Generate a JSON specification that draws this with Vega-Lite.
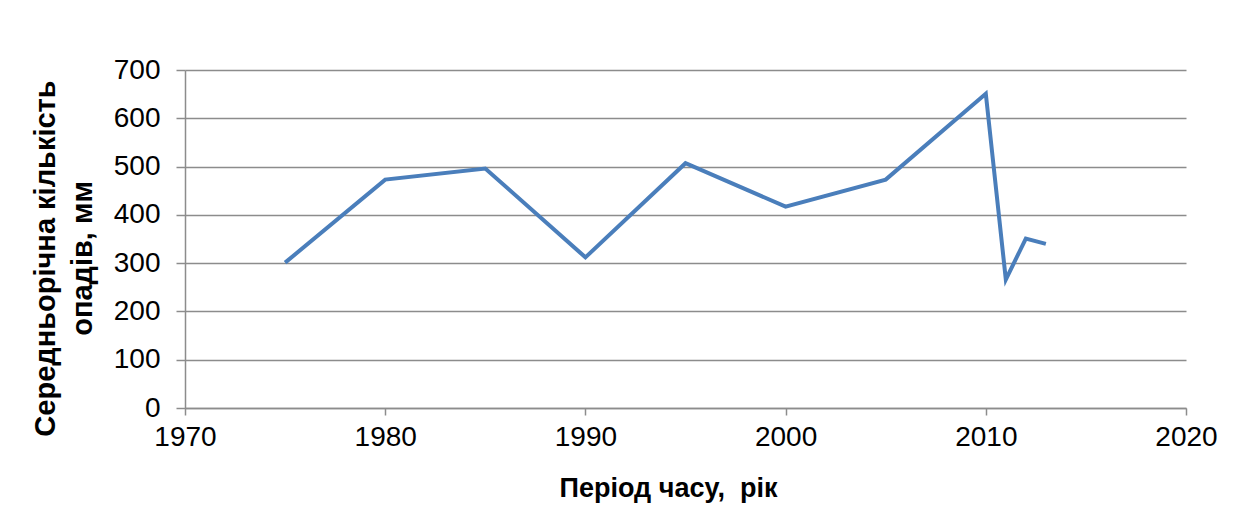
{
  "$schema": "https://vega.github.io/schema/vega-lite/v6.json",
  "width": 1001,
  "height": 338,
  "autosize": {"type": "none"},
  "padding": {"left": 185, "top": 70, "right": 65, "bottom": 107},
  "background": "white",
  "data": {"values": [
    {"year": 1975, "mm": 301},
    {"year": 1980, "mm": 473},
    {"year": 1985, "mm": 496},
    {"year": 1990, "mm": 312},
    {"year": 1995, "mm": 507},
    {"year": 2000, "mm": 417},
    {"year": 2005, "mm": 473},
    {"year": 2010, "mm": 651},
    {"year": 2011, "mm": 266},
    {"year": 2012, "mm": 351},
    {"year": 2013, "mm": 340}
  ]},
  "mark": {"type": "line", "color": "#4a7ebb", "strokeWidth": 4, "strokeJoin": "miter"},
  "encoding": {
    "x": {
      "field": "year", "type": "quantitative",
      "scale": {"domain": [1970, 2020], "nice": false, "zero": false},
      "axis": {
        "values": [1970, 1980, 1990, 2000, 2010, 2020],
        "format": "d",
        "grid": false,
        "labelFlush": false,
        "title": "Період часу,\u00a0 рік",
        "titleFont": "Liberation Sans", "titleFontSize": 27, "titleFontWeight": "bold",
        "titleColor": "black", "titlePadding": 24, "titleX": 483,
        "labelFont": "Liberation Sans", "labelFontSize": 28, "labelColor": "black",
        "labelPadding": 8,
        "domainColor": "#8c8c8c", "domainWidth": 1.5,
        "tickColor": "#8c8c8c", "tickSize": 7, "tickWidth": 1.5
      }
    },
    "y": {
      "field": "mm", "type": "quantitative",
      "scale": {"domain": [0, 700], "nice": false},
      "axis": {
        "values": [0, 100, 200, 300, 400, 500, 600, 700],
        "grid": true, "gridColor": "#8c8c8c", "gridWidth": 1.5,
        "title": ["Середньорічна кількість", "опадів, мм"],
        "titleFont": "Liberation Sans", "titleFontSize": 29, "titleFontWeight": "bold",
        "titleColor": "black", "titleLineHeight": 37, "titleY": 188,
        "titlePadding": 16,
        "labelFont": "Liberation Sans", "labelFontSize": 28, "labelColor": "black",
        "labelPadding": 16,
        "domainColor": "#8c8c8c", "domainWidth": 1.5,
        "tickColor": "#8c8c8c", "tickSize": 9, "tickWidth": 1.5
      }
    }
  },
  "config": {"view": {"stroke": null}}
}
